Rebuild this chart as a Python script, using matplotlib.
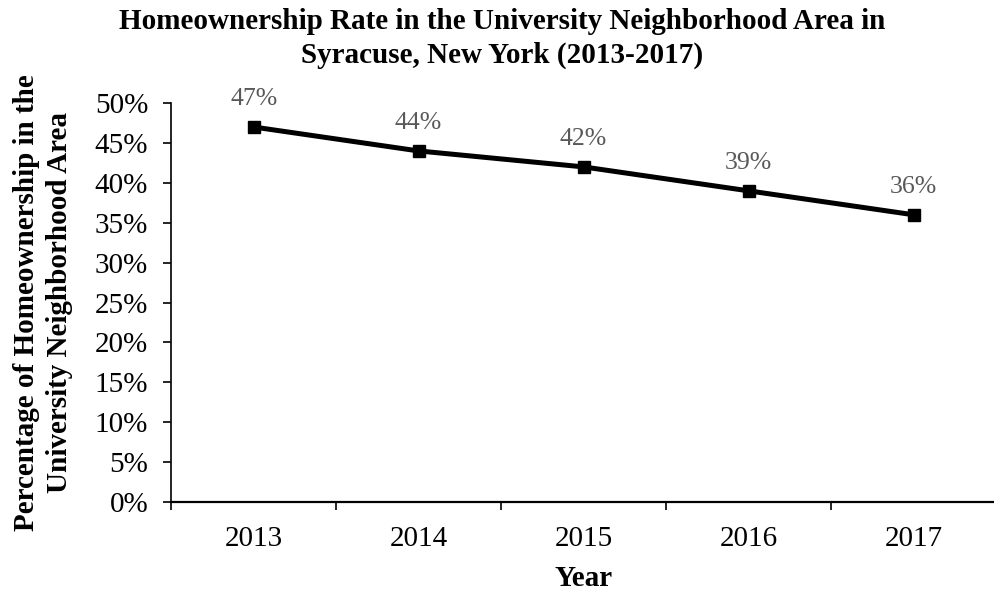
import matplotlib.pyplot as plt
import numpy as np

years = ['2013', '2014', '2015', '2016', '2017']
rates = [47, 44, 42, 39, 36]
yticks = [0, 5, 10, 15, 20, 25, 30, 35, 40, 45, 50]

plt.rcParams['font.family'] = ['Liberation Serif', 'DejaVu Serif']

fig = plt.figure(figsize=(9.95, 5.91), dpi=100)
ax = fig.add_axes([0.172, 0.1506, 0.829, 0.675])

x = np.arange(len(years))
ax.plot(x, rates, color='black', linewidth=3.6, marker='s', markersize=8)

for xi, v in zip(x, rates):
    ax.annotate(f'{v}%', xy=(xi, v), xytext=(0, 12), textcoords='offset points',
                ha='center', va='bottom', fontsize=18.5, color='#595959')

ax.set_xlim(-0.5, len(years) - 0.5)
ax.set_ylim(0, 50)
ax.set_yticks(yticks)
ax.set_yticklabels([f'{t}%' for t in yticks], fontsize=21)
ax.set_xticks(x)
ax.set_xticklabels(years, fontsize=21)
ax.set_xticks(np.arange(-0.5, len(years)), minor=True)
ax.tick_params(axis='x', which='major', length=0, pad=17)
ax.tick_params(axis='x', which='minor', length=5.5, width=1.2, direction='out')
ax.tick_params(axis='y', length=5.5, width=1.2, direction='out', pad=11)

for s in ['top', 'right']:
    ax.spines[s].set_visible(False)
ax.spines['left'].set_linewidth(1.2)
ax.spines['bottom'].set_linewidth(1.6)

ax.set_xlabel('Year', fontsize=21, fontweight='bold', labelpad=10)
ax.set_ylabel('Percentage of Homeownership in the\nUniversity Neighborhood Area',
              fontsize=21, fontweight='bold', labelpad=16, linespacing=1.25)
fig.text(0.505, 0.986, 'Homeownership Rate in the University Neighborhood Area in\nSyracuse, New York (2013-2017)',
         ha='center', va='top', fontsize=21, fontweight='bold', linespacing=1.3)

fig.savefig('out.png', dpi=100)
